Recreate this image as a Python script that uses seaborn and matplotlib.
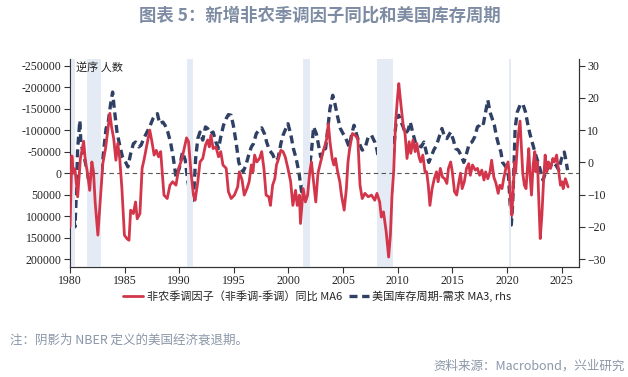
import numpy as np
import pandas as pd
import matplotlib
matplotlib.use("Agg")
import matplotlib.pyplot as plt
from matplotlib.lines import Line2D
import seaborn as sns

sns.set_style("white")
plt.rcParams['font.family'] = ['Noto Sans CJK SC', 'DejaVu Sans']

# 非农季调因子（非季调-季调）同比 MA6, 人数 (left axis, inverted)
red_year = [1980.0, 1980.17, 1980.3, 1980.45, 1980.7, 1980.95, 1981.1, 1981.25, 1981.4, 1981.6,
            1981.8, 1982.0, 1982.15, 1982.3, 1982.55, 1982.8, 1983.0, 1983.25, 1983.4, 1983.65,
            1983.8, 1984.0, 1984.2, 1984.37, 1984.55, 1984.75, 1984.98, 1985.2, 1985.4, 1985.55,
            1985.8, 1986.0, 1986.15, 1986.4, 1986.6, 1986.8, 1987.0, 1987.3, 1987.5, 1987.7,
            1987.9, 1988.1, 1988.3, 1988.6, 1988.9, 1989.15, 1989.4, 1989.7, 1989.95, 1990.25,
            1990.45, 1990.67, 1990.85, 1991.07, 1991.3, 1991.45, 1991.7, 1991.9, 1992.15, 1992.4,
            1992.6, 1992.75, 1992.9, 1993.1, 1993.35, 1993.6, 1993.8, 1994.0, 1994.3, 1994.5,
            1994.75, 1995.05, 1995.35, 1995.5, 1995.75, 1995.95, 1996.2, 1996.4, 1996.6, 1996.75,
            1996.9, 1997.1, 1997.35, 1997.55, 1997.75, 1997.95, 1998.2, 1998.35, 1998.55, 1998.75,
            1998.9, 1999.05, 1999.3, 1999.5, 1999.7, 1999.95, 2000.2, 2000.4, 2000.65, 2000.8,
            2001.0, 2001.1, 2001.35, 2001.55, 2001.75, 2001.95, 2002.1, 2002.3, 2002.5, 2002.7,
            2002.95, 2003.2, 2003.35, 2003.5, 2003.65, 2003.8, 2004.0, 2004.15, 2004.3, 2004.5,
            2004.7, 2004.85, 2005.1, 2005.3, 2005.45, 2005.6, 2005.85, 2006.1, 2006.35, 2006.55,
            2006.75, 2007.0, 2007.3, 2007.6, 2007.9, 2008.1, 2008.35, 2008.5, 2008.7, 2008.95,
            2009.17, 2009.33, 2009.48, 2009.63, 2009.8, 2010.0, 2010.1, 2010.3, 2010.5, 2010.67,
            2010.85, 2011.05, 2011.2, 2011.4, 2011.6, 2011.75, 2011.95, 2012.1, 2012.3, 2012.5,
            2012.65, 2012.8, 2012.95, 2013.15, 2013.35, 2013.55, 2013.7, 2013.9, 2014.1, 2014.3,
            2014.5, 2014.65, 2014.85, 2015.0, 2015.2, 2015.4, 2015.55, 2015.75, 2015.9, 2016.1,
            2016.3, 2016.5, 2016.65, 2016.85, 2017.1, 2017.3, 2017.5, 2017.7, 2017.9, 2018.05,
            2018.25, 2018.45, 2018.6, 2018.8, 2019.0, 2019.2, 2019.35, 2019.55, 2019.7, 2019.9,
            2020.1, 2020.2, 2020.33, 2020.45, 2020.57, 2020.7, 2020.8, 2021.0, 2021.2, 2021.3,
            2021.45, 2021.6, 2021.75, 2021.9, 2022.0, 2022.1, 2022.25, 2022.4, 2022.55, 2022.65,
            2022.8, 2022.9, 2023.05, 2023.2, 2023.35, 2023.5, 2023.65, 2023.8, 2024.0, 2024.2,
            2024.35, 2024.55, 2024.75, 2024.9, 2025.05, 2025.15, 2025.35, 2025.5, 2025.6]
red_val = [125, -40, 0, -10, 55, -34, -54, -74, -30, 0,
           40, -26, -3, 67, 144, 51, -22, -57, -88, -139,
           -108, -80, -30, -69, -34, 36, 144, 152, 156, 86,
           94, 67, 106, 94, -11, -34, -61, -100, -73, -42,
           -53, -38, -50, 51, 59, 28, 20, 28, -11, -34,
           -57, -82, -73, -3, 51, 63, 20, -26, -34, -65,
           -77, -61, -88, -57, -61, -38, -50, -19, -11, 43,
           59, 51, 32, -3, 16, 51, 36, 20, -19, -3,
           -42, -26, -34, -50, -11, 51, 55, 75, 28, 13,
           -19, -30, -53, -50, -38, -11, 20, 75, 40, 75,
           51, 117, 36, 67, 51, -3, -26, 20, 67, 0,
           -26, -53, -65, -80, -115, -73, -34, -19, -34, -3,
           20, 51, 86, 36, -26, -57, -92, -88, -80, 28,
           59, 47, 55, 51, 63, 47, 67, 102, 90, 137,
           195, 144, 51, -3, -115, -181, -208, -158, -112, -92,
           -34, -73, -46, -77, -50, -69, -38, -26, -42, -3,
           -3, 28, 75, 36, 13, -3, 20, -11, 9, 13,
           24, -11, -26, -3, 43, 51, 28, 0, 36, 20,
           -11, -22, 5, -19, -7, -11, 5, -7, 16, -3,
           13, -3, -30, 9, 24, 47, 28, 36, 13, -11,
           -26, -3, 67, 98, 36, -26, -3, -80, -121, -73,
           0, 28, 36, -22, -57, -3, 51, -19, -50, -3,
           -26, 51, 152, 98, 20, -42, -3, -26, -11, -34,
           -26, -42, -3, 28, 20, 36, 13, 24, 32]

# 美国库存周期-需求 MA3 (right axis)
navy_year = [1980.0, 1980.1, 1980.3, 1980.45, 1980.6, 1980.7, 1980.9, 1981.0, 1981.2, 1981.4,
             1981.6, 1981.85, 1982.05, 1982.2, 1982.5, 1982.7, 1982.9, 1983.1, 1983.3, 1983.5,
             1983.7, 1983.9, 1984.05, 1984.3, 1984.55, 1984.8, 1985.1, 1985.3, 1985.55, 1985.8,
             1986.0, 1986.3, 1986.5, 1986.75, 1987.05, 1987.35, 1987.6, 1987.8, 1988.0, 1988.2,
             1988.5, 1988.7, 1988.95, 1989.2, 1989.45, 1989.7, 1990.0, 1990.3, 1990.55, 1990.75,
             1991.0, 1991.15, 1991.35, 1991.5, 1991.7, 1991.9, 1992.15, 1992.4, 1992.6, 1992.85,
             1993.1, 1993.35, 1993.6, 1993.8, 1994.05, 1994.3, 1994.5, 1994.75, 1994.95, 1995.2,
             1995.45, 1995.65, 1995.85, 1996.1, 1996.35, 1996.6, 1996.8, 1997.05, 1997.3, 1997.55,
             1997.8, 1998.0, 1998.25, 1998.55, 1998.8, 1999.05, 1999.3, 1999.5, 1999.7, 1999.95,
             2000.2, 2000.45, 2000.7, 2000.95, 2001.2, 2001.45, 2001.7, 2001.9, 2002.1, 2002.3,
             2002.55, 2002.7, 2002.95, 2003.2, 2003.4, 2003.65, 2003.8, 2004.05, 2004.25, 2004.5,
             2004.75, 2005.0, 2005.2, 2005.55, 2005.8, 2006.0, 2006.3, 2006.5, 2006.75, 2007.0,
             2007.3, 2007.6, 2007.9, 2008.1, 2008.3, 2008.5, 2008.7, 2008.85, 2009.05, 2009.2,
             2009.35, 2009.5, 2009.7, 2009.9, 2010.1, 2010.25, 2010.5, 2010.7, 2010.95, 2011.15,
             2011.4, 2011.65, 2011.9, 2012.15, 2012.4, 2012.65, 2012.85, 2013.05, 2013.3, 2013.55,
             2013.8, 2014.05, 2014.3, 2014.5, 2014.85, 2015.1, 2015.3, 2015.55, 2015.8, 2016.05,
             2016.3, 2016.55, 2016.8, 2017.05, 2017.3, 2017.5, 2017.7, 2017.85, 2018.05, 2018.25,
             2018.45, 2018.6, 2018.85, 2019.05, 2019.25, 2019.45, 2019.6, 2019.8, 2020.0, 2020.15,
             2020.28, 2020.4, 2020.52, 2020.65, 2020.75, 2020.95, 2021.2, 2021.45, 2021.7, 2021.9,
             2022.1, 2022.35, 2022.6, 2022.85, 2023.1, 2023.3, 2023.45, 2023.7, 2023.95, 2024.2,
             2024.5, 2024.75, 2025.0, 2025.25, 2025.4, 2025.55]
navy_val = [-2.4, -10.2, -16.3, -20, -8, 4.3, 13, 5.8, 3.2, 0,
            -2.9, -10.2, -14.3, -12.2, -10.7, -9.7, -2.9, 4.3, 10.5, 12.5,
            17.7, 21.8, 16.7, 9.4, 5.3, 1.7, 0, -1.4, 2.7, 5.8,
            6.3, 4.8, 5.3, 7.4, 9.4, 11.5, 13.6, 14.6, 15.1, 12,
            12.5, 11.5, 9.4, 6.3, 1.5, -4.5, -1.9, 3.2, 0.7, -5,
            -10.2, -12.8, -8.1, 1.2, 7.4, 9.4, 6.9, 11, 10.5, 8.9,
            9.4, 6.3, 4.3, 7.9, 11.5, 13.6, 14.8, 14.6, 11.5, 6.3,
            0, -1.9, -2.9, -0.9, 2.2, 4.8, 5.8, 8.9, 10, 10.7,
            8.9, 6.3, 3.8, 2.5, 0.5, 1.2, 5.8, 8.4, 10, 12,
            8.9, 4.3, 1.2, -2.9, -9.1, -7.1, -1.9, -1.9, 3.2, 11,
            8.9, 6.3, 1.7, 3.8, 4.3, 12, 16.7, 20.8, 18.2, 14.1,
            10.5, 8.9, 7.9, 4.8, 8.9, 11.5, 7.9, 5.8, 3.8, 4.3,
            7.9, 8.4, 6.3, 4, 0, -2.4, -6.6, -12.2, -20.5, -28,
            -17.4, -1.9, 6.9, 14.1, 14.6, 13, 11, 8.9, 10, 12.5,
            8.9, 5.8, 5.3, 4.8, 6.3, 2.7, 0, 1.7, 3.8, 5.3,
            7.9, 10.5, 7.9, 7.4, 9.4, 6.9, 4.3, 3.8, 2.2, 0,
            2.7, 5.8, 6.3, 7.9, 11, 11.5, 12.5, 12, 15.6, 19.3,
            15.6, 14.1, 11.5, 7.9, 5.3, 3.2, 0, -0.9, -1.9, -4.5,
            -12.2, -19.4, -13.3, -0.9, 10.5, 15.6, 17.7, 18.2, 15.6, 12,
            8.9, 5.8, 2.7, 0, -2.9, -5.5, -4, -1.9, -1.4, 0,
            -0.9, -2.4, 1.2, 3.2, 0.7, -2.4]

# NBER recessions (start, end)
rec_start = [1980.0, 1981.55, 1990.67, 2001.3, 2008.1, 2020.2]
rec_end = [1980.5, 1982.87, 1991.28, 2001.95, 2009.55, 2020.35]

red_df = pd.DataFrame({"year": red_year, "val": np.array(red_val) * 1000})
navy_df = pd.DataFrame({"year": navy_year, "val": navy_val})

RED = "#d3364b"
NAVY = "#2f4064"
DASH = (0, (2.4, 1.4))

fig = plt.figure(figsize=(6.28, 3.77), dpi=100)
ax = fig.add_axes([0.1115, 0.292, 0.8105, 0.552])
ax2 = ax.twinx()

for s, e in zip(rec_start, rec_end):
    ax.axvspan(s, e, color="#e5ebf4", lw=0, zorder=0)

ax.axhline(0, color="#555555", lw=0.8, ls=(0, (4, 3)), zorder=1)

sns.lineplot(data=red_df, x="year", y="val", ax=ax, color=RED, lw=2.0, zorder=3)
sns.lineplot(data=navy_df, x="year", y="val", ax=ax2, color=NAVY, lw=2.4,
             linestyle=DASH, zorder=2)
ax.set_zorder(ax2.get_zorder() + 1)
ax.patch.set_visible(False)

ax.set_xlim(1980, 2026.6)
ax.set_ylim(217900, -265600)
ax2.set_ylim(-32.4, 32.1)

ax.set_xticks(range(1980, 2026, 5))
ax.set_yticks(range(-250000, 200001, 50000))
ax.set_yticklabels([str(v) for v in range(-250000, 200001, 50000)])
ax2.set_yticks(range(-30, 31, 10))

for a in (ax, ax2):
    a.set_xlabel("")
    a.set_ylabel("")
    for lab in a.get_xticklabels() + a.get_yticklabels():
        lab.set_fontfamily("Liberation Serif")
        lab.set_fontsize(8.5)
        lab.set_color("#222222")
    a.tick_params(axis="both", which="both", direction="out", length=4, width=0.8,
                  color="#333333", pad=2)
    for sp in a.spines.values():
        sp.set_color("#333333")
        sp.set_linewidth(0.8)
    a.spines["top"].set_visible(False)
    a.grid(False)

ax.tick_params(axis="y", left=True)
ax.tick_params(axis="x", bottom=True)
ax2.tick_params(axis="y", right=True)

ax.text(0.012, 0.985, "逆序 人数", transform=ax.transAxes, ha="left", va="top",
        fontsize=8, color="#222222")

handles = [Line2D([], [], color=RED, lw=2.0),
           Line2D([], [], color=NAVY, lw=2.4, linestyle=DASH)]
labels = ["非农季调因子（非季调-季调）同比 MA6", "美国库存周期-需求 MA3, rhs"]
fig.legend(handles, labels, loc="center", bbox_to_anchor=(0.505, 0.215), ncol=2,
           frameon=False, fontsize=8, handlelength=1.8, handletextpad=0.3,
           columnspacing=0.6)

fig.text(0.51, 0.958, "图表 5：新增非农季调因子同比和美国库存周期", ha="center", va="center",
         fontsize=12.5, fontweight="bold", color="#7d8ca3")
fig.text(0.016, 0.098, "注：阴影为 NBER 定义的美国经济衰退期。", ha="left", va="center",
         fontsize=9, color="#8a96a8")
fig.text(0.995, 0.03, "资料来源：Macrobond，兴业研究", ha="right", va="center",
         fontsize=9, color="#8a96a8")

fig.savefig("out.png", dpi=100)
